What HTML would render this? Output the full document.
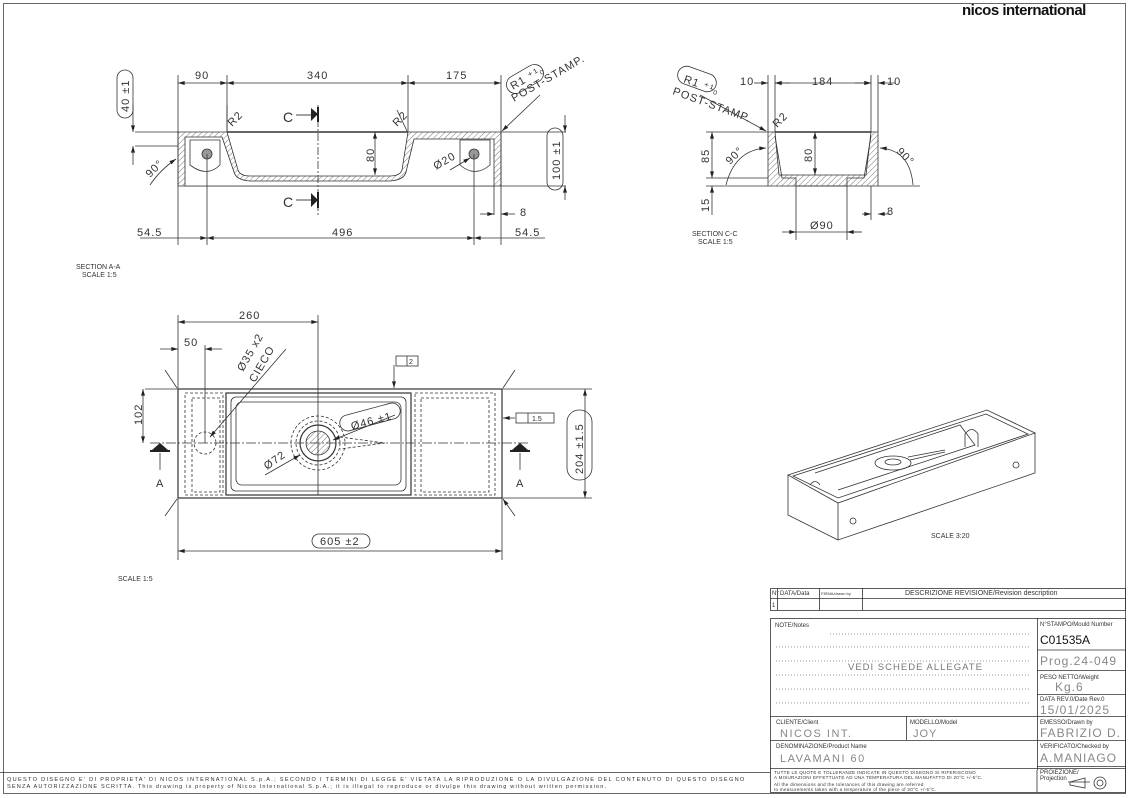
<!DOCTYPE html>
<html><head><meta charset="utf-8"><style>
html,body{margin:0;padding:0;background:#fff}
svg{display:block}
text{font-family:"Liberation Sans",sans-serif;fill:#333}
.d{font-size:11px;letter-spacing:1px}
.s{font-size:6px}
.m{font-size:7px}
</style></head><body>
<svg width="1129" height="798" viewBox="0 0 1129 798" xmlns="http://www.w3.org/2000/svg">
<defs>
<pattern id="h" width="4" height="4" patternUnits="userSpaceOnUse" patternTransform="rotate(45)"><line x1="0" y1="0" x2="0" y2="4" stroke="#555" stroke-width="0.8"/></pattern>
<marker id="a" viewBox="0 0 10 6" refX="10" refY="3" markerWidth="10" markerHeight="5" orient="auto-start-reverse"><path d="M0,0L10,3L0,6z" fill="#222"/></marker>
</defs>
<g fill="none" stroke="#444" stroke-width="0.8">
<rect x="3.5" y="3.5" width="1122" height="790"/>
</g>
<text x="962" y="15" style="font-size:15px;font-weight:bold;fill:#111;letter-spacing:-0.5px">nicos international</text>

<!-- SECTION A-A -->
<g stroke="#333" stroke-width="0.8" fill="none">
<path d="M178,132 H227 L238,170 Q240,176 250,176 H390 Q400,176 402,170 L408,132 H501 V186 H178 Z" fill="url(#h)"/>
<path d="M185,137 H222 L234,172 Q236,180 250,181 H390 Q404,180 406,172 L414,139 H494 V186 H185 Z" fill="#fff"/>
<path d="M190,140 H220 V165 Q207,178 190,165 Z"/>
<path d="M460,140 H490 V165 Q475,178 460,165 Z"/>
<circle cx="207" cy="154" r="5" fill="#999"/><circle cx="474" cy="154" r="5" fill="#999"/>
<line x1="227" y1="132" x2="408" y2="132" stroke-width="1.4"/>
<line x1="318" y1="105" x2="318" y2="215" stroke-dasharray="8,2,2,2"/>
<path d="M178,75V245 M227,75V132 M408,75V132 M501,75V245 M207,154V245 M474,154V245 M494,186V215"/>
<path d="M135,132H178 M135,146H178 M501,132H566 M501,186H566"/>
<g marker-start="url(#a)" marker-end="url(#a)">
<line x1="178" y1="83" x2="227" y2="83"/><line x1="227" y1="83" x2="408" y2="83"/><line x1="408" y1="83" x2="501" y2="83"/>
<line x1="207" y1="238" x2="474" y2="238"/>
<line x1="375" y1="132" x2="375" y2="175"/>
</g>
<line x1="140" y1="238" x2="207" y2="238" marker-end="url(#a)"/>
<line x1="474" y1="238" x2="545" y2="238" marker-start="url(#a)"/>
<line x1="133" y1="105" x2="133" y2="132" marker-end="url(#a)"/><line x1="133" y1="165" x2="133" y2="146" marker-end="url(#a)"/>
<line x1="565" y1="115" x2="565" y2="132" marker-end="url(#a)"/><line x1="565" y1="200" x2="565" y2="186" marker-end="url(#a)"/>
<line x1="480" y1="214" x2="494" y2="214" marker-end="url(#a)"/><line x1="515" y1="214" x2="501" y2="214" marker-end="url(#a)"/>
<path d="M176,159 Q160,170 150,185" marker-start="url(#a)"/>
<line x1="540" y1="95" x2="502" y2="131" marker-end="url(#a)"/>
<line x1="227" y1="105" x2="227" y2="131"/><line x1="397" y1="110" x2="407" y2="131"/>
<path d="M450,170 L470,158" marker-end="url(#a)"/>
<rect x="117" y="70" width="16" height="48" rx="8"/><rect x="547" y="128" width="16" height="62" rx="8"/>
<rect x="505" y="70" width="40" height="18" rx="9" transform="rotate(-30 525 79)"/>
</g>
<path d="M311,108 L318,114 L311,121 Z M311,193 L318,200 L311,207Z" fill="#222"/>
<line x1="318" y1="107" x2="318" y2="122" stroke="#222" stroke-width="2"/><line x1="318" y1="192" x2="318" y2="208" stroke="#222" stroke-width="2"/>
<line x1="296" y1="115" x2="311" y2="115" stroke="#444"/><line x1="296" y1="200" x2="311" y2="200" stroke="#444"/>
<text class="d" x="195" y="79">90</text><text class="d" x="307" y="79">340</text><text class="d" x="446" y="79">175</text>
<text class="d" x="137" y="236">54.5</text><text class="d" x="332" y="236">496</text><text class="d" x="515" y="236">54.5</text>
<text class="d" x="283" y="122" style="font-size:14px">C</text><text class="d" x="283" y="207" style="font-size:14px">C</text>
<text class="d" transform="translate(374,162) rotate(-90)">80</text>
<text class="d" transform="translate(129,112) rotate(-90)">40 ±1</text>
<text class="d" transform="translate(560,180) rotate(-90)">100 ±1</text>
<text class="d" x="520" y="216">8</text>
<text class="d" transform="translate(150,178) rotate(-45)">90°</text>
<text class="d" transform="translate(436,170) rotate(-30)">Ø20</text>
<text class="d" transform="translate(232,127) rotate(-45)">R2</text>
<text class="d" transform="translate(397,127) rotate(-45)">R2</text>
<text class="d" transform="translate(514,102) rotate(-30)">POST-STAMP.</text>
<text class="d" transform="translate(513,90) rotate(-30)">R1 ⁺¹₀</text>
<text class="m" x="76" y="269">SECTION A-A</text><text class="m" x="82" y="277">SCALE 1:5</text>

<!-- SECTION C-C -->
<g stroke="#333" stroke-width="0.8" fill="none">
<path d="M768,132 H775 L779,175 H866 L871,132 H878 V186 H768 Z" fill="url(#h)"/>
<path d="M775,136 L782,178 H796 V186 H847 V178 H864 L871,136"/>
<line x1="775" y1="132" x2="871" y2="132" stroke-width="1.4"/>
<path d="M768,75V132 M775,75V132 M871,75V132 M878,75V132 M796,186V240 M847,186V240 M871,186V220 M706,132H768 M706,178H768 M706,186H768 M878,186H920 M740,186H768"/>
<line x1="754" y1="83" x2="768" y2="83" marker-end="url(#a)"/><line x1="790" y1="83" x2="775" y2="83" marker-end="url(#a)"/>
<line x1="775" y1="83" x2="871" y2="83" marker-start="url(#a)" marker-end="url(#a)"/>
<line x1="895" y1="83" x2="878" y2="83" marker-end="url(#a)"/><line x1="855" y1="83" x2="871" y2="83" marker-end="url(#a)"/>
<line x1="712" y1="132" x2="712" y2="178" marker-start="url(#a)" marker-end="url(#a)"/>
<line x1="712" y1="215" x2="712" y2="186" marker-end="url(#a)"/>
<line x1="815" y1="132" x2="815" y2="175" marker-start="url(#a)" marker-end="url(#a)"/>
<line x1="790" y1="232" x2="862" y2="232"/><line x1="782" y1="232" x2="796" y2="232" marker-end="url(#a)"/><line x1="861" y1="232" x2="847" y2="232" marker-end="url(#a)"/>
<line x1="862" y1="214" x2="871" y2="214" marker-end="url(#a)"/><line x1="890" y1="214" x2="878" y2="214" marker-end="url(#a)"/>
<path d="M766,148 Q735,150 726,185" marker-start="url(#a)"/><path d="M880,148 Q910,150 913,185" marker-start="url(#a)"/>
<line x1="700" y1="95" x2="766" y2="131" marker-end="url(#a)"/>
<rect x="677" y="70" width="40" height="18" rx="9" transform="rotate(20 697 79)"/>
</g>
<text class="d" x="740" y="85">10</text><text class="d" x="812" y="85">184</text><text class="d" x="887" y="85">10</text>
<text class="d" transform="translate(709,163) rotate(-90)">85</text><text class="d" transform="translate(709,212) rotate(-90)">15</text>
<text class="d" transform="translate(812,162) rotate(-90)">80</text>
<text class="d" x="810" y="229">Ø90</text><text class="d" x="887" y="215">8</text>
<text class="d" transform="translate(730,165) rotate(-45)">90°</text><text class="d" transform="translate(896,152) rotate(45)">90°</text>
<text class="d" transform="translate(672,94) rotate(20)">POST-STAMP.</text>
<text class="d" transform="translate(683,82) rotate(20)">R1 ⁺¹₀</text>
<text class="d" transform="translate(777,128) rotate(-45)">R2</text>
<text class="m" x="692" y="236">SECTION C-C</text><text class="m" x="698" y="244">SCALE 1:5</text>

<!-- PLAN -->
<g stroke="#333" stroke-width="0.8" fill="none">
<rect x="178" y="389" width="324" height="109" stroke-width="1.2"/>
<rect x="226" y="393" width="185" height="102" stroke-width="1.2"/>
<rect x="231" y="397" width="175" height="94" rx="5"/>
<rect x="236" y="402" width="165" height="83" rx="6"/>
<g stroke-dasharray="3,2"><rect x="185" y="393" width="38" height="102"/><rect x="192" y="398" width="28" height="94"/><rect x="415" y="393" width="80" height="102"/><rect x="421" y="398" width="68" height="94"/>
<circle cx="318" cy="443" r="27"/><circle cx="318" cy="443" r="22"/><circle cx="205" cy="443" r="11"/>
<path d="M340,437 L385,443 L340,449"/></g>
<circle cx="318" cy="443" r="18" stroke-width="1.2"/>
<circle cx="318" cy="443" r="12" fill="url(#h)"/>
<line x1="150" y1="443" x2="530" y2="443" stroke-dasharray="10,2,2,2"/>
<line x1="318" y1="315" x2="318" y2="495"/>
<path d="M178,315V389 M205,345V443 M178,498V560 M502,498V560 M502,389H592 M502,498H592 M145,389H178"/>
<line x1="178" y1="322" x2="318" y2="322" marker-start="url(#a)" marker-end="url(#a)"/>
<line x1="160" y1="349" x2="178" y2="349" marker-end="url(#a)"/><line x1="222" y1="349" x2="205" y2="349" marker-end="url(#a)"/>
<line x1="178" y1="551" x2="502" y2="551" marker-start="url(#a)" marker-end="url(#a)"/>
<line x1="585" y1="389" x2="585" y2="498" marker-start="url(#a)" marker-end="url(#a)"/>
<line x1="143" y1="389" x2="143" y2="443" marker-start="url(#a)" marker-end="url(#a)"/>
<line x1="286" y1="349" x2="210" y2="437" marker-end="url(#a)"/>
<line x1="265" y1="475" x2="300" y2="455" marker-end="url(#a)"/>
<line x1="395" y1="415" x2="333" y2="440" marker-end="url(#a)"/>
<line x1="394" y1="365" x2="394" y2="388" marker-end="url(#a)"/>
<line x1="515" y1="418" x2="503" y2="418" marker-end="url(#a)"/>
<path d="M165,370 L177,388 M515,370 L503,388 M165,516 L177,499 M515,516 L503,499" marker-end="url(#a)"/>
<rect x="396" y="356" width="22" height="10"/><line x1="407" y1="356" x2="407" y2="366"/>
<rect x="516" y="413" width="38" height="10"/><line x1="528" y1="413" x2="528" y2="423"/>
<rect x="312" y="534" width="58" height="14" rx="7"/>
<rect x="567" y="410" width="25" height="70" rx="12"/>
<rect x="339" y="409" width="62" height="16" rx="8" transform="rotate(-15 370 417)"/>
<path d="M160,453V470 M520,453V470"/>
</g>
<path d="M152,450 L160,443 L168,450Z M512,450 L520,443 L528,450Z" fill="#222"/>
<line x1="150" y1="451" x2="170" y2="451" stroke="#222" stroke-width="2"/><line x1="510" y1="451" x2="530" y2="451" stroke="#222" stroke-width="2"/>
<text class="d" x="239" y="319">260</text><text class="d" x="184" y="346">50</text>
<text class="d" x="320" y="545">605 ±2</text>
<text class="d" transform="translate(583,474) rotate(-90)">204 ±1.5</text>
<text class="d" transform="translate(142,425) rotate(-90)">102</text>
<text class="d" transform="translate(243,372) rotate(-60)">Ø35 x2</text>
<text class="d" transform="translate(255,383) rotate(-60)">CIECO</text>
<text class="d" transform="translate(352,430) rotate(-15)">Ø46 ±1</text>
<text class="d" transform="translate(267,470) rotate(-35)">Ø72</text>
<text class="d" x="156" y="487">A</text><text class="d" x="516" y="487">A</text>
<text class="m" x="409" y="364">2</text><text class="m" x="532" y="421">1.5</text>
<text class="m" x="118" y="581">SCALE 1:5</text>

<!-- ISOMETRIC -->
<g stroke="#333" stroke-width="0.8" fill="none">
<path d="M788,475 L987,410 L1035,433 L838,503 Z"/>
<path d="M838,503 V540 L1035,473 V433 M788,475 V515 L838,540"/>
<path d="M793,476 L986,414 L1028,434 L838,498 Z"/>
<path d="M815,473 L960,425 L975,445 L838,490"/>
<ellipse cx="893" cy="463" rx="18" ry="7"/><ellipse cx="893" cy="462" rx="8" ry="3"/>
<path d="M910,460 L945,452 M908,457 L945,450"/>
<path d="M965,447 V434 Q972,425 978,434 V447"/><path d="M810,485 Q815,478 820,485"/>
<circle cx="853" cy="521" r="3"/><circle cx="1016" cy="465" r="3"/>
</g>
<text class="m" x="931" y="538">SCALE 3:20</text>

<!-- TITLE BLOCK -->
<g stroke="#333" stroke-width="0.8" fill="none">
<rect x="770.5" y="588.5" width="355" height="22"/>
<path d="M770,598.5H1126 M777.5,588V610 M819.5,588V610 M862.5,588V610"/>
<rect x="770.5" y="618.5" width="355" height="174"/>
<path d="M1037.5,618V770 M1037,650H1126 M1037,670.5H1126 M1037,694.5H1126 M1037,716.5H1126 M1037,740.5H1126 M1037,766.5H1126 M770,716.5H1037 M906.5,716V740 M770,740.5H1037 M770,768.5H1126"/>
<path d="M1037,770V792" /><path d="M0,772.5H770"/>
<g stroke-dasharray="1,2" stroke="#777"><path d="M830,634H1030 M776,647H1030 M776,661H1030 M776,675H1030 M776,689H1030 M776,703H1030"/></g>
<path d="M1070,782 L1085,778 V788 L1070,785Z M1068,782H1090"/><circle cx="1100" cy="783" r="6"/><circle cx="1100" cy="783" r="3"/>
</g>
<g class="s">
<text x="772" y="595" class="s">N°</text><text x="780" y="595" class="s">DATA/Data</text><text x="821" y="595" class="s" style="font-size:4px">FIRMA/drawn by</text>
<text x="905" y="595" class="m">DESCRIZIONE REVISIONE/Revision description</text>
<text x="772" y="607" class="s">1</text>
<text x="775" y="627" class="s">NOTE/Notes</text>
<text x="1040" y="626" class="s">N°STAMPO/Mould Number</text>
<text x="1040" y="644" style="font-size:12px;fill:#111">C01535A</text>
<text x="1040" y="665" style="font-size:12px;fill:#888;letter-spacing:1px">Prog.24-049</text>
<text x="1040" y="679" class="s">PESO NETTO/Weight</text>
<text x="1055" y="691" style="font-size:12px;fill:#888;letter-spacing:1px">Kg.6</text>
<text x="1040" y="701" class="s">DATA REV.0/Date Rev.0</text>
<text x="1040" y="714" style="font-size:12px;fill:#888;letter-spacing:1px">15/01/2025</text>
<text x="1040" y="724" class="s">EMESSO/Drawn by</text>
<text x="1040" y="737" style="font-size:12px;fill:#888;letter-spacing:1px">FABRIZIO D.</text>
<text x="1040" y="748" class="s">VERIFICATO/Checked by</text>
<text x="1040" y="762" style="font-size:12px;fill:#888;letter-spacing:1px">A.MANIAGO</text>
<text x="1040" y="774" class="s">PROIEZIONE/</text><text x="1040" y="780" class="s">Projection</text>
<text x="848" y="670" style="font-size:9.5px;fill:#777;letter-spacing:1px">VEDI SCHEDE ALLEGATE</text>
<text x="776" y="724" class="s">CLIENTE/Client</text><text x="910" y="724" class="s">MODELLO/Model</text>
<text x="780" y="737" style="font-size:11px;fill:#888;letter-spacing:1.5px">NICOS INT.</text>
<text x="913" y="737" style="font-size:11px;fill:#888;letter-spacing:1px">JOY</text>
<text x="776" y="748" class="s">DENOMINAZIONE/Product Name</text>
<text x="780" y="762" style="font-size:11px;fill:#888;letter-spacing:1.5px">LAVAMANI 60</text>
<text x="774" y="774" style="font-size:4.5px;letter-spacing:0.3px">TUTTE LE QUOTE E TOLLERANZE INDICATE IN QUESTO DISEGNO SI RIFERISCONO</text>
<text x="774" y="779" style="font-size:4.5px;letter-spacing:0.3px">A MISURAZIONI EFFETTUATE AD UNA TEMPERATURA DEL MANUFATTO DI 20°C +/-5°C.</text>
<text x="774" y="786" style="font-size:4.5px;letter-spacing:0.3px">All the dimensions and the tolerances of this drawing are referred</text>
<text x="774" y="791" style="font-size:4.5px;letter-spacing:0.3px">to measurements taken with a temperature of the piece of 20°C +/-5°C.</text>
<text x="7" y="781" style="font-size:5.6px;letter-spacing:1.3px">QUESTO DISEGNO E' DI PROPRIETA' DI NICOS INTERNATIONAL S.p.A.; SECONDO I TERMINI DI LEGGE E' VIETATA LA RIPRODUZIONE O LA DIVULGAZIONE DEL CONTENUTO DI QUESTO DISEGNO</text>
<text x="7" y="788" style="font-size:5.6px;letter-spacing:1.15px">SENZA AUTORIZZAZIONE SCRITTA. This drawing is property of Nicos International S.p.A.; it is illegal to reproduce or divulge this drawing without written permission.</text>
</g>
</svg>
</body></html>
